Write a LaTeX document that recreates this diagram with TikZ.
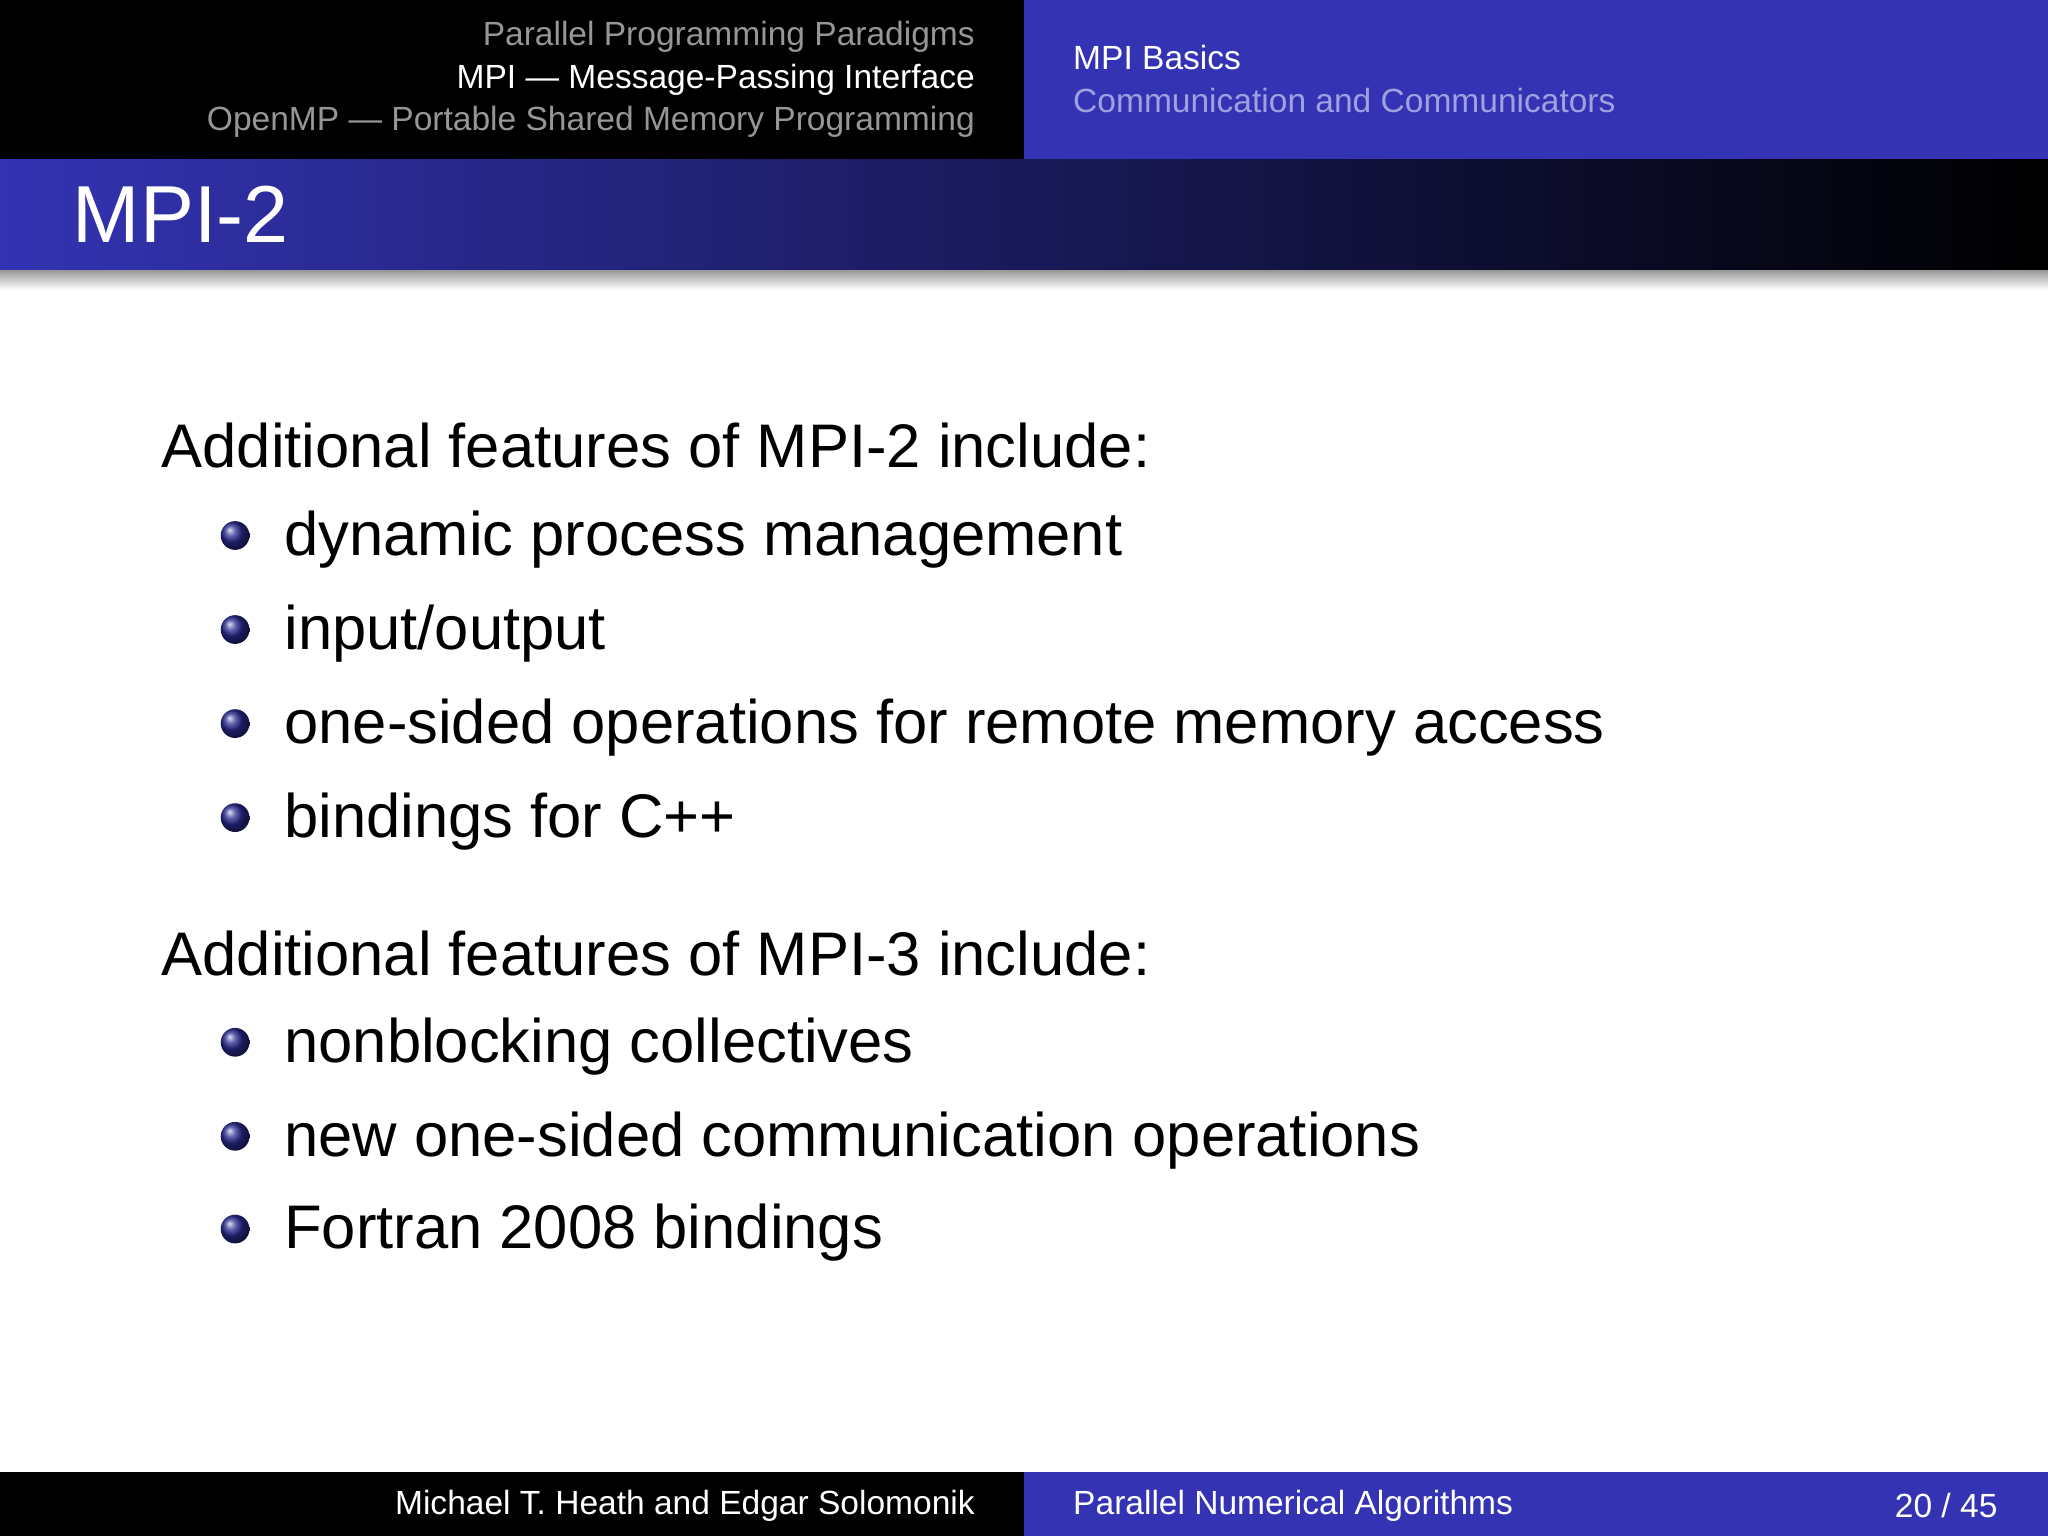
\documentclass[tikz,border=0pt]{standalone}
\usepackage{fontspec}
\setmainfont{Liberation Sans}
\definecolor{bblue}{RGB}{51,51,179}
\definecolor{hgray}{RGB}{150,150,150}
\definecolor{lblue}{RGB}{160,160,225}
\begin{document}
\begin{tikzpicture}[x=0.01cm,y=-0.01cm,
  hd/.style={font=\fontsize{7.3pt}{8pt}\selectfont,inner sep=0pt},
  bd/.style={font=\fontsize{13.4pt}{15pt}\selectfont,inner sep=0pt,anchor=west},
  bul/.style={circle,inner sep=0pt,minimum size=0.22cm,ball color=bblue!80!black}]
\useasboundingbox (0,0) rectangle (1568,1176);
\fill[white] (0,0) rectangle (1568,1176);
\fill[black] (0,0) rectangle (784,122);
\fill[bblue] (784,0) rectangle (1568,122);
\shade[left color=bblue,right color=black] (0,122) rectangle (1568,207);
\shade[top color=black!40,bottom color=white] (0,207) rectangle (1568,222);
\node[hd,anchor=east,text=hgray] (h1) at (747,28) {Parallel Programming Paradigms};
\node[hd,anchor=east,text=white] (h2) at (747,61) {MPI — Message-Passing Interface};
\node[hd,anchor=east,text=hgray] (h3) at (747,93) {OpenMP — Portable Shared Memory Programming};
\node[hd,anchor=west,text=white] (h4) at (821,44) {MPI Basics};
\node[hd,anchor=west,text=lblue] (h5) at (821,77) {Communication and Communicators};
\node[inner sep=0pt,anchor=west,text=white,font=\fontsize{17.6pt}{20pt}\selectfont] (t) at (55,164) {MPI-2};
\node[bd] (a) at (123,341) {Additional features of MPI-2 include:};
\foreach \y/\t [count=\i] in {413/{dynamic process management},485/{input/output},557/{one-sided operations for remote memory access},629/{bindings for C++}}{
  \node[bul] (b\i) at (180,\y-3) {};
  \node[bd] (s\i) at (217,\y) {\t};
}
\node[bd] (c) at (123,730) {Additional features of MPI-3 include:};
\foreach \y/\t [count=\i] in {801/{nonblocking collectives},873/{new one-sided communication operations},944/{Fortran 2008 bindings}}{
  \node[bul] (d\i) at (180,\y-3) {};
  \node[bd] (e\i) at (217,\y) {\t};
}
\fill[black] (0,1127) rectangle (784,1176);
\fill[bblue] (784,1127) rectangle (1568,1176);
\node[hd,anchor=east,text=white] (f1) at (747,1153) {Michael T. Heath and Edgar Solomonik};
\node[hd,anchor=west,text=white] (f2) at (821,1153) {Parallel Numerical Algorithms};
\node[hd,anchor=east,text=white] (f3) at (1530,1153) {20 / 45};
\end{tikzpicture}
\end{document}
